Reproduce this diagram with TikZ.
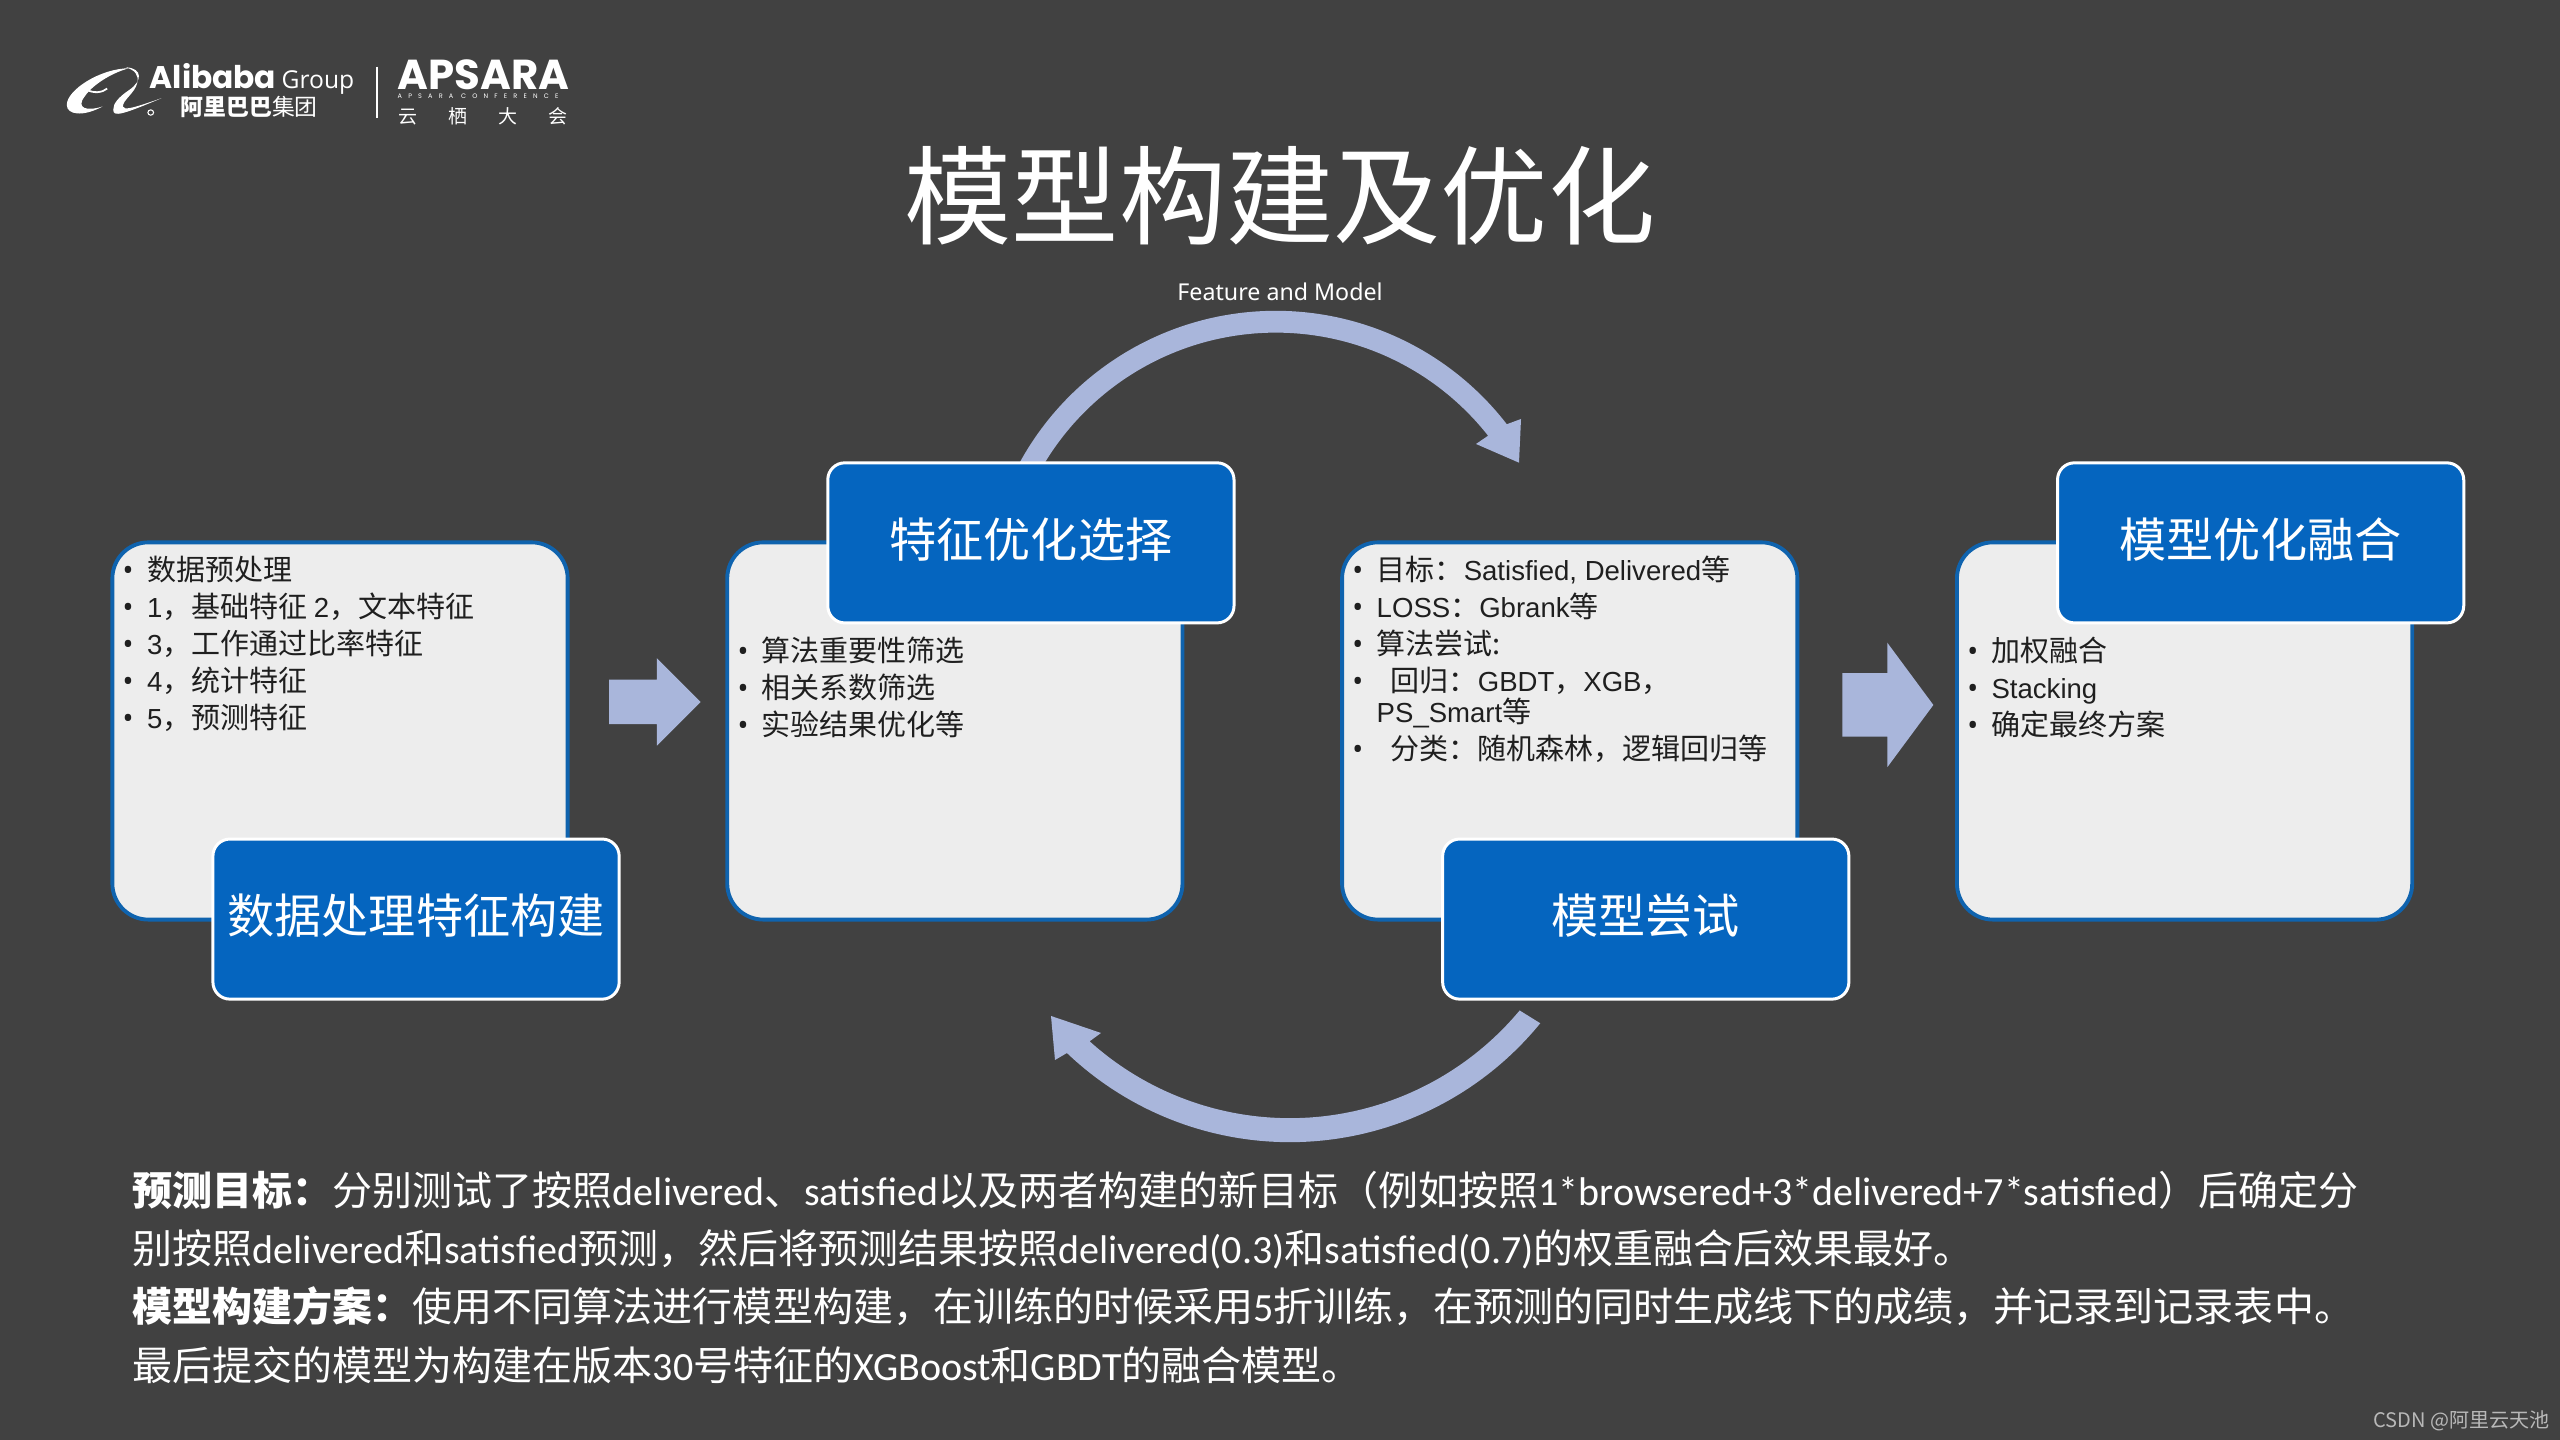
\documentclass[tikz,border=0pt]{standalone}
\usepackage{fontspec}
\setmainfont{Noto Sans CJK SC}
\newfontfamily\latinfont{Noto Sans}
\newfontfamily\logofont{Poppins}
\newfontfamily\groupfont{Open Sans}
\newfontfamily\spacedfont[LetterSpace=95]{Poppins}
\newfontfamily\listfont[Scale=.95]{Liberation Sans}
\newfontfamily\notefont{Carlito}
\usetikzlibrary{positioning, shapes.arrows, calc}

\definecolor{slidebg}{HTML}{414141}
\definecolor{boxfill}{HTML}{EDEDED}
\definecolor{boxline}{HTML}{0F63AE}
\definecolor{labelblue}{HTML}{0565BF}
\definecolor{flowblue}{HTML}{A9B6DB}

\newcommand{\bull}{\makebox[6.5pt][l]{\hspace{-.4pt}{\latinfont\textbullet}}}
\newcommand{\listen}[1]{{\listfont #1}}
\newcommand{\noteen}[1]{{\notefont #1}}
% full width punctuation
\newcommand{\fcomma}{^^^^ff0c}
\newcommand{\fcolon}{^^^^ff1a}
\newcommand{\fopen}{^^^^ff08}
\newcommand{\fclose}{^^^^ff09}

\tikzset{
    mainbox/.style={rectangle, draw=boxline, fill=boxfill, line width=1.1pt, rounded corners=.36cm, minimum width=4.55cm, minimum height=3.77cm, inner sep=0},
    labelbox/.style={rectangle, draw=white, fill=labelblue, line width=.85pt, rounded corners=.17cm, minimum width=4.06cm, minimum height=1.6cm, inner sep=0, text=white, text height=11pt, text depth=2.6pt, font=\fontsize{13.4pt}{16pt}\selectfont},
    listtext/.style={align=left, inner sep=0, text=black!88, font=\fontsize{8.25pt}{10.53pt}\selectfont},
    flowarrow/.style={fill=flowblue},
    blockarrow/.style={single arrow, fill=flowblue, inner xsep=0, outer sep=0, anchor=tail},
    logotext/.style={inner sep=0, text=white, anchor=base west}
}

\begin{document}
\begin{tikzpicture}[x=.01cm, y=.01cm, node distance=6.145cm]
        \useasboundingbox (0,0) rectangle (2560,1440);
        \fill[slidebg] (0,0) rectangle (2560,1440);

        % logo
        \begin{scope}[shift={(40,1400)}, x=.00357cm, y=-.00333cm]
            \fill[white] (250,85) .. controls (170,85) and (75,150) .. (75,195) .. controls (75,225) and (120,232) .. (175,200) .. controls (130,215) and (100,205) .. (125,170) .. controls (150,130) and (210,95) .. (250,85) -- cycle;
            \fill[white] (240,82) .. controls (290,85) and (285,125) .. (250,150) .. controls (220,172) and (205,190) .. (205,210) .. controls (205,232) and (230,225) .. (340,175) .. controls (260,205) and (235,212) .. (232,200) .. controls (232,180) and (265,160) .. (272,130) .. controls (278,105) and (265,90) .. (240,82) -- cycle;
            \draw[white, line width=.5pt] (128,148) .. controls (150,162) and (175,158) .. (188,146);
            \draw[white, line width=.3pt] (310,218) circle[radius=8];
            \draw[white, line width=.4pt] (943,80) -- (943,235);
        \end{scope}
        \node[logotext, font=\logofont\fontsize{8.9pt}{10pt}\selectfont\bfseries] (alibaba) at (149,1351) {Alibaba};
        \node[logotext, font=\groupfont\fontsize{7pt}{9pt}\selectfont] (group) at (281,1351) {Group};
        \node[logotext, font=\fontsize{6.5pt}{7pt}\selectfont] (alibabacn) at (180,1324) {{\bfseries 阿里巴巴}集团};
        \node[logotext, font=\logofont\fontsize{11.9pt}{12pt}\selectfont\bfseries] (apsara) at (397,1350) {APSARA};
        \node[logotext, font=\spacedfont\fontsize{1.85pt}{2pt}\selectfont] (conference) at (397,1341) {APSARA CONFERENCE};
        \node[logotext, font=\fontsize{5.4pt}{6pt}\selectfont] (yunqi) at (398,1316) {云\hspace{8.8pt}栖\hspace{8.8pt}大\hspace{8.8pt}会};

        % title
        \node[text=white, inner sep=0, font=\fontsize{30.5pt}{34pt}\selectfont] (title) at (1280,1244) {模型构建及优化};
        \node[text=white, inner sep=0, font=\latinfont\fontsize{6.6pt}{9pt}\selectfont] (feature) at (1280,1148) {Feature and Model};

        % boxes
        \node[mainbox] (boxA) at (340,709) {};
        \node[mainbox, right of=boxA] (boxB) {};
        \node[mainbox, right of=boxB] (boxC) {};
        \node[mainbox, right of=boxC] (boxD) {};

        \node[listtext, below right=.15cm and .13cm of boxA.north west] (textA) {\bull 数据预处理\\
            \bull \listen{1}\fcomma{}基础特征 \listen{2}\fcomma{}文本特征\\
            \bull \listen{3}\fcomma{}工作通过比率特征\\
            \bull \listen{4}\fcomma{}统计特征\\
            \bull \listen{5}\fcomma{}预测特征};
        \node[listtext, below right=.96cm and .13cm of boxB.north west] (textB) {\bull 算法重要性筛选\\
            \bull 相关系数筛选\\
            \bull 实验结果优化等};
        \node[listtext, below right=.15cm and .13cm of boxC.north west] (textC) {\bull 目标\fcolon{}\listen{Satisfied, Delivered}等\\
            \bull \listen{LOSS}\fcolon{}\listen{Gbrank}等\\
            \bull 算法尝试:\\
            \bull\hspace{4pt}回归\fcolon{}\listen{GBDT}\fcomma{}\listen{XGB}\fcomma\\[-1.7pt]
            \hspace{6.5pt}\listen{PS\_Smart}等\\
            \bull\hspace{4pt}分类\fcolon{}随机森林\fcomma{}逻辑回归等};
        \node[listtext, below right=.96cm and .13cm of boxD.north west] (textD) {\bull 加权融合\\
            \bull \listen{Stacking}\\
            \bull 确定最终方案};

        % arrows
        \node[blockarrow, minimum height=.915cm, minimum width=.86cm, inner ysep=.215cm, single arrow head extend=.215cm, single arrow tip angle=90, xshift=.395cm, yshift=.29cm] (arrowAB) at (boxA.east) {};
        \node[blockarrow, minimum height=.91cm, minimum width=1.23cm, inner ysep=.31cm, single arrow head extend=.305cm, single arrow tip angle=107, xshift=.43cm, yshift=.26cm] (arrowCD) at (boxC.east) {};

        \coordinate (topc) at (1275.8,837.2);
        \coordinate (botc) at (1289.8,621);
        \fill[flowarrow] ($(topc)+(152:2.918cm)$) arc[start angle=152, end angle=37.7, radius=2.918cm] -- (1521,1021) -- (1519,977.3) -- (1476,996) -- ($(topc)+(38.2:2.7cm)$) arc[start angle=38.2, end angle=152, radius=2.7cm] -- cycle;
        \fill[flowarrow] ($(botc)+(-39.2:3.23cm)$) arc[start angle=-39.2, end angle=-133.6, radius=3.23cm] -- (1055,380) -- (1051,424) -- (1101,407) -- ($(botc)+(-132:2.99cm)$) arc[start angle=-132, end angle=-39.8, radius=2.99cm] -- cycle;

        % labels
        \node[labelbox, below of=boxA, node distance=1.88cm, xshift=.76cm] (labelA) {数据处理特征构建};
        \node[labelbox, above of=boxB, node distance=1.88cm, xshift=.76cm] (labelB) {特征优化选择};
        \node[labelbox, below of=boxC, node distance=1.88cm, xshift=.76cm] (labelC) {模型尝试};
        \node[labelbox, above of=boxD, node distance=1.88cm, xshift=.76cm] (labelD) {模型优化融合};

        % notes
        \node[align=left, anchor=north west, inner sep=0, text=white, font=\fontsize{11.38pt}{16.5pt}\selectfont] (notes) at (132,269) {{\bfseries 预测目标\fcolon}分别测试了按照\noteen{delivered}、\noteen{satisfied}以及两者构建的新目标\fopen{}例如按照\noteen{1*browsered+3*delivered+7*satisfied}\fclose{}后确定分\\
            别按照\noteen{delivered}和\noteen{satisfied}预测\fcomma{}然后将预测结果按照\noteen{delivered(0.3)}和\noteen{satisfied(0.7)}的权重融合后效果最好。\\
            {\bfseries 模型构建方案\fcolon}使用不同算法进行模型构建\fcomma{}在训练的时候采用\noteen{5}折训练\fcomma{}在预测的同时生成线下的成绩\fcomma{}并记录到记录表中。\\
            最后提交的模型为构建在版本\noteen{30}号特征的\noteen{XGBoost}和\noteen{GBDT}的融合模型。};

        \node[anchor=base east, inner sep=0, text=black!28, font=\fontsize{5.7pt}{7pt}\selectfont] (mark) at (2550,12) {CSDN @阿里云天池};
    \end{tikzpicture}
\end{document}
